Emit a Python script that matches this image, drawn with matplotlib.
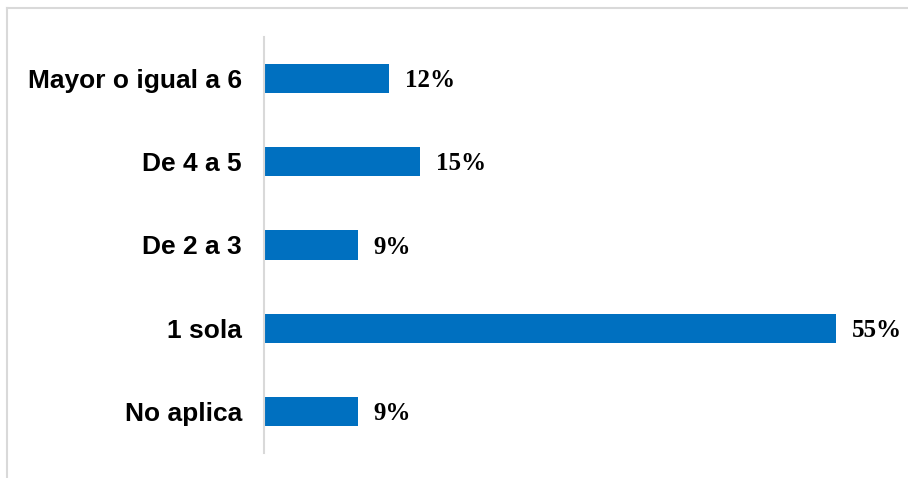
import matplotlib
matplotlib.use("Agg")
import matplotlib.pyplot as plt
from matplotlib.lines import Line2D

categories = ["No aplica", "1 sola", "De 2 a 3", "De 4 a 5", "Mayor o igual a 6"]
values = [9, 55, 9, 15, 12]
labels = ["9%", "55%", "9%", "15%", "12%"]

W, H = 908, 478
fig = plt.figure(figsize=(W/100, H/100), dpi=100)
x0, y0, y1 = 264, 37, 453
pxper = 10.4
xmax = 60
ax = fig.add_axes([x0/W, 1 - y1/H, xmax*pxper/W, (y1-y0)/H])

ax.barh(range(len(categories)), values, height=0.35, color="#0070C0")
ax.set_ylim(-0.5, len(categories) - 0.5)
ax.set_xlim(0, xmax)
ax.set_yticks(range(len(categories)))
ax.set_yticklabels(categories, fontsize=19, fontweight="bold", family="Liberation Sans")
ax.tick_params(axis="y", length=0, pad=16)
ax.set_xticks([])
for s in ["top", "right", "bottom"]:
    ax.spines[s].set_visible(False)
ax.spines["left"].set_color("#d9d9d9")
ax.spines["left"].set_linewidth(1.5)

for i, (v, t) in enumerate(zip(values, labels)):
    ax.annotate(t, (v, i), xytext=(16, -2), textcoords="offset pixels",
                va="center", ha="left", fontsize=18, fontweight="bold", family="Liberation Serif")

fig.add_artist(Line2D([7/W, 1], [1 - 8/H, 1 - 8/H], transform=fig.transFigure, color="#d9d9d9", lw=1.5))
fig.add_artist(Line2D([7/W, 7/W], [0, 1 - 8/H], transform=fig.transFigure, color="#d9d9d9", lw=1.5))

fig.savefig("out.png", dpi=100)
